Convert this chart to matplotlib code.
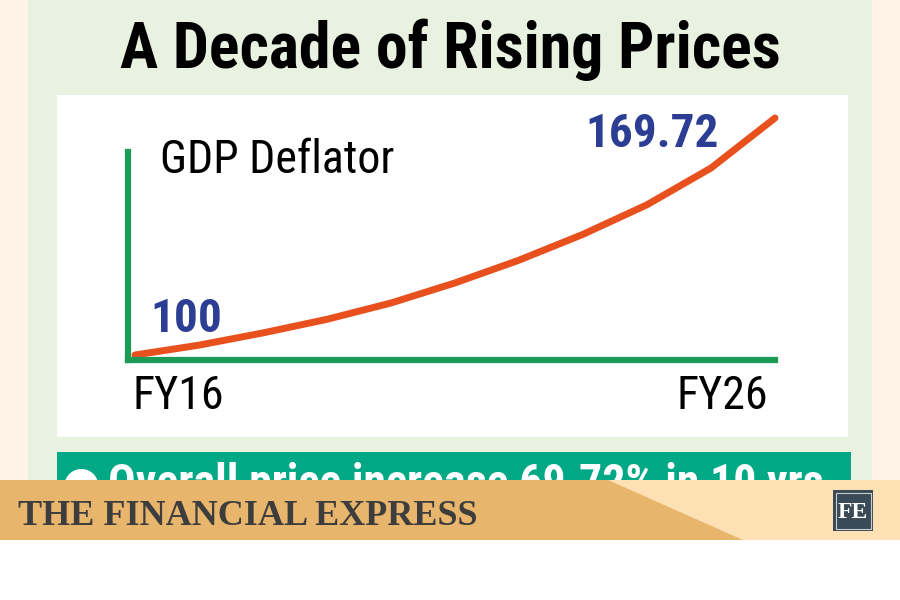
import matplotlib
matplotlib.use('Agg')
import matplotlib.pyplot as plt
from matplotlib import font_manager
from matplotlib.patches import Rectangle, Polygon

# GDP deflator, FY16 = 100
years = ['FY16', 'FY17', 'FY18', 'FY19', 'FY20', 'FY21', 'FY22', 'FY23', 'FY24', 'FY25', 'FY26']
deflator = [100, 102.9, 106.5, 110.5, 115.3, 121.2, 127.9, 135.5, 144.2, 155.0, 169.72]
start_label = '100'
end_label = '169.72'
title = 'A Decade of Rising Prices'
banner = 'Overall price increase 69.72% in 10 yrs'

names = {f.name for f in font_manager.fontManager.ttflist}
def pick(*cands):
    for c in cands:
        if c in names:
            return c
    return 'DejaVu Sans'

narrow = pick('Liberation Sans Narrow', 'DejaVu Sans Condensed', 'Roboto Condensed', 'Liberation Sans')
serif = pick('DejaVu Serif Condensed', 'Liberation Serif', 'DejaVu Serif')

W, H = 900, 600
fig = plt.figure(figsize=(9, 6), dpi=100)

def rect(x0, y0, x1, y1, color, z=0):
    fig.patches.append(Rectangle((x0 / W, 1 - y1 / H), (x1 - x0) / W, (y1 - y0) / H,
                                 transform=fig.transFigure, color=color, zorder=z, lw=0))

def ftext(x, y, s, **kw):
    return fig.text(x / W, 1 - y / H, s, **kw)

# backgrounds
rect(0, 0, 900, 480, '#fdf3e7', 0)
rect(28, 0, 872, 480, '#e9f2e1', 1)
rect(57, 95, 848, 437, 'white', 2)
rect(57, 452, 851, 480, '#00a886', 2)

# teal banner text, cut off by the footer like in the print layout
teal_clip = Rectangle((57 / W, 1 - 480 / H), 794 / W, 28 / H, transform=fig.transFigure)
t1 = ftext(62, 496, '\u25cf', color='white', fontsize=32, family=['DejaVu Sans'], zorder=3, va='baseline')
t2 = ftext(108, 497, banner, color='white', fontsize=33, fontweight='bold', family=[narrow],
           zorder=3, va='baseline')
for t in (t1, t2):
    t.set_clip_path(teal_clip)

# footer
rect(0, 480, 900, 540, '#fde1b5', 5)
fig.patches.append(Polygon([(0, 1 - 480 / H), (608 / W, 1 - 480 / H), (743 / W, 1 - 540 / H), (0, 1 - 540 / H)],
                           closed=True, transform=fig.transFigure, color='#e8b56c', zorder=6, lw=0))
ftext(18, 525, 'THE FINANCIAL EXPRESS', color='#3d3d3d', fontsize=26, fontweight='bold',
      family=[serif], zorder=7, va='baseline')
rect(833, 490, 873, 531, '#3a4a56', 7)
fig.patches.append(Rectangle((835.5 / W, 1 - 528.5 / H), 35 / W, 36 / H, transform=fig.transFigure,
                             fill=False, ec='#c9ced2', lw=0.8, zorder=8))
ftext(853, 512, 'FE', color='white', fontsize=17, fontweight='bold', family=['Liberation Serif', 'DejaVu Serif'],
      ha='center', va='center', zorder=9)

# title
ftext(450, 68, title, ha='center', va='baseline', fontsize=46, fontweight='bold', family=[narrow], zorder=10)

# chart axes
ax = fig.add_axes([128 / W, 1 - 360 / H, (775 - 128) / W, (360 - 152) / H], zorder=10)
ax.patch.set_visible(False)
xs = list(range(len(years)))
ax.plot(xs, deflator, color='#e8501e', lw=5, solid_capstyle='round', solid_joinstyle='round', clip_on=False)
px_per_x = (775 - 135) / (len(years) - 1)
ax.set_xlim(-(135 - 128) / px_per_x, len(years) - 1)
px_per_y = (355 - 118) / (deflator[-1] - deflator[0])
ax.set_ylim(deflator[0] - 5 / px_per_y, deflator[0] + 203 / px_per_y)
for s in ['top', 'right']:
    ax.spines[s].set_visible(False)
for s in ['left', 'bottom']:
    ax.spines[s].set_color('#1e9a57')
    ax.spines[s].set_linewidth(4.5)
ax.set_xticks([])
ax.set_yticks([])

ftext(160, 160, 'GDP Deflator', fontsize=33, family=[narrow], va='center', zorder=11)
ftext(150, 319, start_label, fontsize=34, fontweight='bold', color='#2b3e93', family=[narrow], va='center', zorder=11)
ftext(585, 134, end_label, fontsize=34, fontweight='bold', color='#2b3e93', family=[narrow], va='center', zorder=11)
ftext(133, 396, years[0], fontsize=33, family=[narrow], va='center', zorder=11)
ftext(768, 396, years[-1], fontsize=33, family=[narrow], va='center', ha='right', zorder=11)

fig.savefig('out.png', dpi=100)
